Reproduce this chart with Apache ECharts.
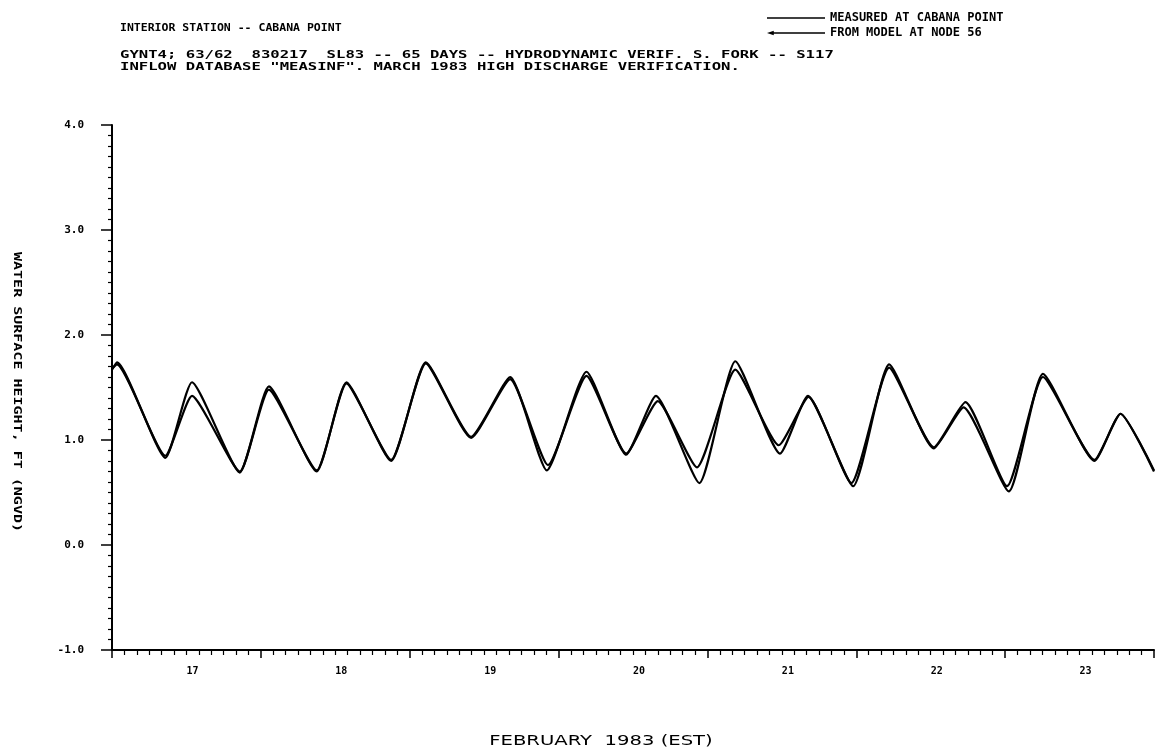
<!DOCTYPE html>
<html>
<head>
<meta charset="utf-8">
<script src="https://cdn.jsdelivr.net/npm/echarts@6/dist/echarts.min.js"></script>
<style>
html,body{margin:0;padding:0;background:#fff;}
#chart{width:1157px;height:750px;}
</style>
</head>
<body>
<div id="chart"></div>
<script>
// ---- data (hours after 17 Feb 1983 00:00 EST) ----
const measuredHours = [0, 0.8, 8.6, 12.9, 20.6, 25.3, 33.0, 37.8, 45.0, 50.6, 57.9, 64.2, 70.1, 76.5, 82.9, 87.7, 94.7, 100.5, 107.7, 112.2, 119.5, 125.3, 132.5, 137.3, 144.6, 150.1, 158.4, 162.6, 168];
const measuredValues = [1.67, 1.74, 0.83, 1.55, 0.69, 1.51, 0.70, 1.55, 0.80, 1.74, 1.03, 1.60, 0.71, 1.65, 0.86, 1.42, 0.59, 1.75, 0.87, 1.42, 0.56, 1.72, 0.92, 1.31, 0.51, 1.63, 0.80, 1.25, 0.70];
const modelHours = [0, 0.8, 8.6, 12.9, 20.6, 25.3, 33.0, 37.8, 45.0, 50.6, 57.9, 64.2, 70.3, 76.5, 82.9, 88.0, 94.3, 100.5, 107.5, 112.3, 119.2, 125.3, 132.5, 137.6, 144.3, 150.1, 158.4, 162.6, 168];
const modelValues = [1.68, 1.72, 0.85, 1.42, 0.70, 1.48, 0.71, 1.54, 0.81, 1.73, 1.02, 1.58, 0.76, 1.61, 0.87, 1.37, 0.74, 1.67, 0.95, 1.41, 0.59, 1.69, 0.93, 1.36, 0.56, 1.60, 0.81, 1.25, 0.71];
const dayLabels = ['17', '18', '19', '20', '21', '22', '23'];
const yTicks = [-1, 0, 1, 2, 3, 4];

const seriesNames = ['MEASURED AT CABANA POINT', 'FROM MODEL AT NODE 56'];
const titleLines = [
  'INTERIOR STATION -- CABANA POINT',
  'GYNT4; 63/62  830217  SL83 -- 65 DAYS -- HYDRODYNAMIC VERIF. S. FORK -- S117',
  'INFLOW DATABASE "MEASINF". MARCH 1983 HIGH DISCHARGE VERIFICATION.'
];
const yName = 'WATER SURFACE HEIGHT, FT (NGVD)';
const xName = 'FEBRUARY  1983 (EST)';

const zip = (a, b) => a.map((h, i) => [h, b[i]]);
const plotFont = 'DejaVu Sans Mono';
const lineIcon = 'path://M0,0 L0,0 M0,2.2 L60,2.2 L60,3.8 L0,3.8 Z M60,6 L60,6';
const arrowIcon = 'path://M0,0 L0,0 M0,3 L7,0.8 L7,2.2 L60,2.2 L60,3.8 L7,3.8 L7,5.2 Z M60,6 L60,6';

const chart = echarts.init(document.getElementById('chart'));
chart.setOption({
  backgroundColor: '#ffffff',
  animation: false,
  grid: {left: 112, right: -5, top: 125, bottom: 100},
  legend: {
    data: [{name: seriesNames[0], icon: lineIcon}, {name: seriesNames[1], icon: arrowIcon}],
    orient: 'vertical',
    left: 762, top: 7,
    itemWidth: 58, itemHeight: 6, itemGap: 3,
    textStyle: {fontFamily: plotFont, fontSize: 12, fontWeight: 'bold', color: '#000'}
  },
  xAxis: [{
    type: 'value', min: 0, max: 168, interval: 24,
    axisLine: {onZero: false, lineStyle: {color: '#000', width: 2}},
    axisTick: {show: true, length: 8, lineStyle: {color: '#000', width: 1.5}},
    minorTick: {show: true, splitNumber: 12, length: 5, lineStyle: {color: '#000', width: 1.2}},
    axisLabel: {show: false},
    splitLine: {show: false}
  }, {
    type: 'value', min: 0, max: 168, interval: 12, position: 'bottom', gridIndex: 0,
    axisLine: {show: false, onZero: false}, axisTick: {show: false}, splitLine: {show: false},
    axisLabel: {
      margin: 16, align: 'left', color: '#000', fontFamily: plotFont, fontSize: 10, fontWeight: 'bold',
      formatter: v => (v % 24 === 12 ? dayLabels[(v - 12) / 24] : '')
    }
  }],
  yAxis: {
    type: 'value', min: yTicks[0], max: yTicks[yTicks.length - 1], interval: 1,
    axisLine: {show: true, onZero: false, lineStyle: {color: '#000', width: 2}},
    axisTick: {show: true, length: 11, lineStyle: {color: '#000', width: 1.5}},
    minorTick: {show: true, splitNumber: 10, length: 4, lineStyle: {color: '#000', width: 1.2}},
    splitLine: {show: false},
    axisLabel: {margin: 28, color: '#000', fontFamily: plotFont, fontSize: 11, fontWeight: 'bold',
      formatter: v => v.toFixed(1)}
  },
  series: [{
    name: seriesNames[0], type: 'line', xAxisIndex: 0,
    data: zip(measuredHours, measuredValues),
    showSymbol: false, symbol: 'none', smooth: 0.18,
    lineStyle: {color: '#000', width: 2.2}, itemStyle: {color: '#000'}
  }, {
    name: seriesNames[1], type: 'line', xAxisIndex: 0,
    data: zip(modelHours, modelValues),
    showSymbol: false, symbol: 'none', smooth: 0.18,
    lineStyle: {color: '#000', width: 2.2}, itemStyle: {color: '#000'}
  }],
  graphic: [
    {type: 'text', x: 120, y: 23, style: {text: titleLines[0], fill: '#000', font: 'bold 10px ' + plotFont}, scaleX: 1.15},
    {type: 'text', x: 120, y: 50, style: {text: titleLines[1], fill: '#000', font: 'bold 10px ' + plotFont}, scaleX: 1.56},
    {type: 'text', x: 120, y: 62, style: {text: titleLines[2], fill: '#000', font: 'bold 10px ' + plotFont}, scaleX: 1.56},
    {type: 'text', x: 17, y: 392, rotation: -Math.PI / 2,
      style: {text: yName, fill: '#000', font: 'bold 10px ' + plotFont, align: 'center', verticalAlign: 'middle'}, scaleX: 1.5},
    {type: 'text', x: 601, y: 741,
      style: {text: xName, fill: '#000', font: '14px DejaVu Sans', align: 'center', verticalAlign: 'middle'}, scaleX: 1.4}
  ]
});
</script>
</body>
</html>
